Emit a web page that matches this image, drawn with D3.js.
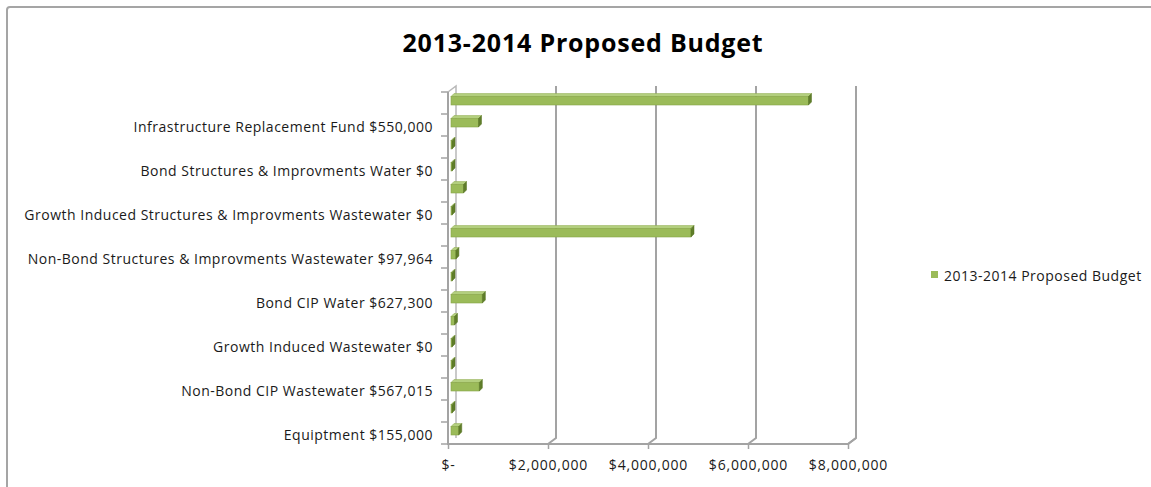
<!DOCTYPE html>
<html>
<head>
<meta charset="utf-8">
<script src="https://cdn.jsdelivr.net/npm/d3@7"></script>
<style>
  html, body { margin: 0; padding: 0; background: #ffffff; }
  svg { display: block; }
  text { font-family: "Open Sans", Lato, sans-serif; fill: #1a1a1a; }
</style>
</head>
<body>
<svg id="chart" width="1151" height="487"></svg>
<script>
// Budget lines, listed from the bottom of the axis upward.
// Only every other name is printed on the axis; unnamed lines are "".
const categories = [
  "Equiptment $155,000",
  "",
  "Non-Bond CIP Wastewater $567,015",
  "",
  "Growth Induced Wastewater $0",
  "",
  "Bond CIP Water $627,300",
  "",
  "Non-Bond Structures & Improvments Wastewater $97,964",
  "",
  "Growth Induced Structures & Improvments Wastewater $0",
  "",
  "Bond Structures & Improvments Water $0",
  "",
  "Infrastructure Replacement Fund $550,000",
  ""
];
const budget = [
  155000, 0, 567015, 0, 0, 70000, 627300, 0,
  97964, 4800000, 0, 250000, 0, 0, 550000, 7150000
];
const seriesName = "2013-2014 Proposed Budget";
const chartTitle = "2013-2014 Proposed Budget";
const xTicks = [0, 2000000, 4000000, 6000000, 8000000];

const svg = d3.select("#chart");

// Chart frame
svg.append("rect")
  .attr("x", 7).attr("y", 7)
  .attr("width", 1200).attr("height", 600)
  .attr("rx", 3)
  .attr("fill", "none")
  .attr("stroke", "#a5a5a5")
  .attr("stroke-width", 2);

// Title
svg.append("text")
  .attr("x", 583).attr("y", 42)
  .attr("text-anchor", "middle")
  .attr("dominant-baseline", "central")
  .style("font-weight", "bold")
  .style("font-size", "25px")
  .style("letter-spacing", "0.8px")
  .style("fill", "#000")
  .text(chartTitle);

// 3-D plot box: front plane plus a back wall pushed up and to the right
const depth = { dx: 8, dy: -6 };
const plot = { left: 448, right: 848, top: 92, bottom: 444 };

const x = d3.scaleLinear().domain([0, 8000000]).range([plot.left, plot.right]);
const y = d3.scaleBand()
  .domain(d3.range(categories.length))
  .range([plot.bottom, plot.top]);

const gridColor = "#a3a3a3";
const grid = svg.append("g");

// Back-wall gridlines that fold down onto the floor edge
xTicks.forEach(t => {
  const fx = x(t);
  const bx = fx + depth.dx;
  if (t > 0) {
    grid.append("path")
      .attr("d", `M${bx},${plot.top + depth.dy} L${bx},${plot.bottom + depth.dy} L${fx},${plot.bottom}`)
      .attr("fill", "none")
      .attr("stroke", gridColor)
      .attr("stroke-width", 2);
  }
});

// Left wall edge and value axis floor line
grid.append("path")
  .attr("d", `M${plot.left},${plot.top} L${plot.left + depth.dx},${plot.top + depth.dy} L${plot.left + depth.dx},${plot.bottom + depth.dy}`)
  .attr("fill", "none").attr("stroke", "#b8b8b8").attr("stroke-width", 1.5);
grid.append("path")
  .attr("d", `M${plot.left},${plot.top} L${plot.left},${plot.bottom} L${plot.right},${plot.bottom} L${plot.right + depth.dx},${plot.bottom + depth.dy}`)
  .attr("fill", "none").attr("stroke", gridColor).attr("stroke-width", 2);

// Category axis tick marks at band boundaries
const boundaries = d3.range(categories.length + 1).map(i =>
  plot.bottom - i * y.step());
grid.selectAll("line.ytick")
  .data(boundaries)
  .join("line")
  .attr("x1", plot.left - 7).attr("x2", plot.left)
  .attr("y1", d => d).attr("y2", d => d)
  .attr("stroke", gridColor).attr("stroke-width", 1.5);

// Value axis tick marks and labels
const xAxis = d3.axisBottom(x)
  .tickValues(xTicks)
  .tickSize(5)
  .tickFormat(d => d === 0 ? "$-" : "$" + d3.format(",")(d));
const xg = svg.append("g")
  .attr("transform", `translate(0,${plot.bottom})`)
  .call(xAxis);
xg.select(".domain").remove();
xg.selectAll(".tick line").attr("stroke", gridColor).attr("stroke-width", 1.5);
xg.selectAll(".tick text")
  .attr("y", 22)
  .attr("dy", "0.32em")
  .style("font-size", "14px")
  .style("letter-spacing", "0.8px")
  .style("font-family", "'Open Sans', sans-serif")
  .attr("fill", "#1a1a1a");

// Category labels (centred on their band)
svg.append("g").selectAll("text.cat")
  .data(categories.map((c, i) => ({ c, i })).filter(d => d.c !== ""))
  .join("text")
  .attr("x", 433)
  .attr("y", d => y(d.i) + y.bandwidth() / 2 + 1)
  .attr("text-anchor", "end")
  .attr("dominant-baseline", "central")
  .style("font-size", "14px")
  .style("letter-spacing", "0.5px")
  .text(d => d.c);

// 3-D bars: front face, top face and dark end cap
const bd = 3;                         // bar depth offset
const barH = 8.5;                     // front-face height
const bars = svg.append("g");
budget.forEach((v, i) => {
  const yc = y(i) + y.bandwidth() / 2;
  const top = yc - 6.5;
  const bot = top + barH;
  const x0 = x(0) + 3;
  const x1 = Math.max(x(v) + 3, x0 + 1);
  const g = bars.append("g");
  g.append("path")
    .attr("d", `M${x0},${top} L${x0 + bd},${top - bd} L${x1 + bd},${top - bd} L${x1},${top} Z`)
    .attr("fill", "#b3cf7e").attr("stroke", "#8eab4f").attr("stroke-width", 0.5);
  g.append("rect")
    .attr("x", x0).attr("y", top)
    .attr("width", x1 - x0).attr("height", barH)
    .attr("fill", "#9bbb59").attr("stroke", "#87a447").attr("stroke-width", 0.6);
  g.append("path")
    .attr("d", `M${x1},${top} L${x1 + bd},${top - bd} L${x1 + bd},${bot - bd} L${x1},${bot} Z`)
    .attr("fill", "#5f7d2a").attr("stroke", "#55731f").attr("stroke-width", 0.5);
});

// Legend
const legend = svg.append("g").attr("transform", "translate(931,271)");
legend.append("rect")
  .attr("width", 7).attr("height", 7)
  .attr("fill", "#9bbb59");
legend.append("text")
  .attr("x", 13).attr("y", 4.5)
  .attr("dominant-baseline", "central")
  .style("font-size", "14px")
  .style("letter-spacing", "0.5px")
  .text(seriesName);
</script>
</body>
</html>
